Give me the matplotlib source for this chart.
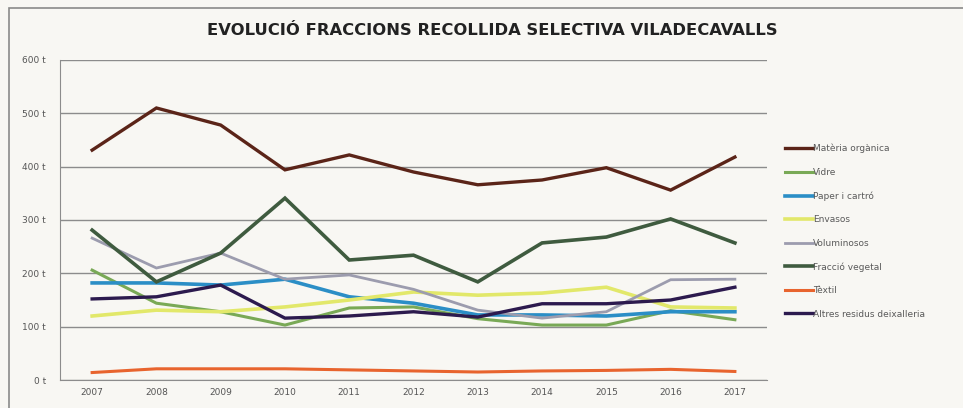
import matplotlib
matplotlib.use("Agg")
import matplotlib.pyplot as plt
from matplotlib.patches import Rectangle

anys = [2007, 2008, 2009, 2010, 2011, 2012, 2013, 2014, 2015, 2016, 2017]

materia_organica = [431, 510, 478, 394, 422, 390, 366, 375, 398, 356, 418]
vidre = [206, 144, 128, 103, 135, 137, 115, 103, 103, 130, 113]
paper_carto = [182, 182, 178, 189, 156, 144, 122, 122, 120, 128, 128]
envasos = [120, 131, 128, 137, 150, 165, 159, 163, 174, 137, 135]
voluminosos = [266, 210, 238, 189, 197, 170, 131, 116, 128, 188, 189]
fraccio_vegetal = [281, 184, 238, 341, 225, 234, 184, 257, 268, 302, 257]
textil = [14, 21, 21, 21, 19, 17, 15, 17, 18, 20, 16]
altres = [152, 156, 178, 116, 120, 128, 118, 143, 143, 150, 174]

series = [
    ("Matèria orgànica", materia_organica, "#5b2418", 2.4),
    ("Vidre", vidre, "#79a956", 2.2),
    ("Paper i cartró", paper_carto, "#2b8ec6", 2.6),
    ("Envasos", envasos, "#e2e86a", 2.6),
    ("Voluminosos", voluminosos, "#9c9cae", 2.0),
    ("Fracció vegetal", fraccio_vegetal, "#3f5b3f", 2.6),
    ("Tèxtil", textil, "#e8642e", 2.2),
    ("Altres residus deixalleria", altres, "#2c1a4e", 2.4),
]

bg = "#f8f7f3"
fig = plt.figure(figsize=(9.63, 4.08), dpi=100, facecolor=bg)
# outer frame of the chart
fig.patches.append(Rectangle((0.009, -0.01), 1.0, 0.99, transform=fig.transFigure,
                             fill=False, edgecolor="#8a8a8a", linewidth=1.2))

ax = fig.add_axes([0.0623, 0.0686, 0.7342, 0.7844], facecolor=bg)
x = list(range(len(anys)))
for nom, vals, color, lw in series:
    ax.plot(x, vals, color=color, linewidth=lw, label=nom, solid_joinstyle="miter")

ax.set_xlim(-0.5, len(anys) - 0.5)
ax.set_ylim(0, 600)
ax.set_yticks(range(0, 601, 100))
ax.set_yticklabels([f"{v} t" for v in range(0, 601, 100)])
ax.set_xticks(x)
ax.set_xticklabels([str(a) for a in anys])
ax.tick_params(axis="both", length=0, labelsize=6.5, colors="#555555")
ax.tick_params(axis="y", pad=10)
ax.tick_params(axis="x", pad=6)
ax.grid(axis="y", color="#8c8c8c", linewidth=1.0)
ax.set_axisbelow(True)
for s in ["top", "right"]:
    ax.spines[s].set_visible(False)
ax.spines["left"].set_color("#8c8c8c")
ax.spines["bottom"].set_color("#8c8c8c")

fig.text(0.511, 0.925, "EVOLUCIÓ FRACCIONS RECOLLIDA SELECTIVA VILADECAVALLS",
         ha="center", va="center", fontsize=11.8, fontweight="bold",
         family="Liberation Sans Narrow", color="#222222")

leg = ax.legend(loc="center left", bbox_to_anchor=(1.02, 0.465), frameon=False,
                fontsize=6.5, handlelength=3.1, handletextpad=0.0,
                labelspacing=1.6, borderaxespad=0)
for t in leg.get_texts():
    t.set_color("#5a5a5a")

fig.savefig("out.png", dpi=100, facecolor=bg)
